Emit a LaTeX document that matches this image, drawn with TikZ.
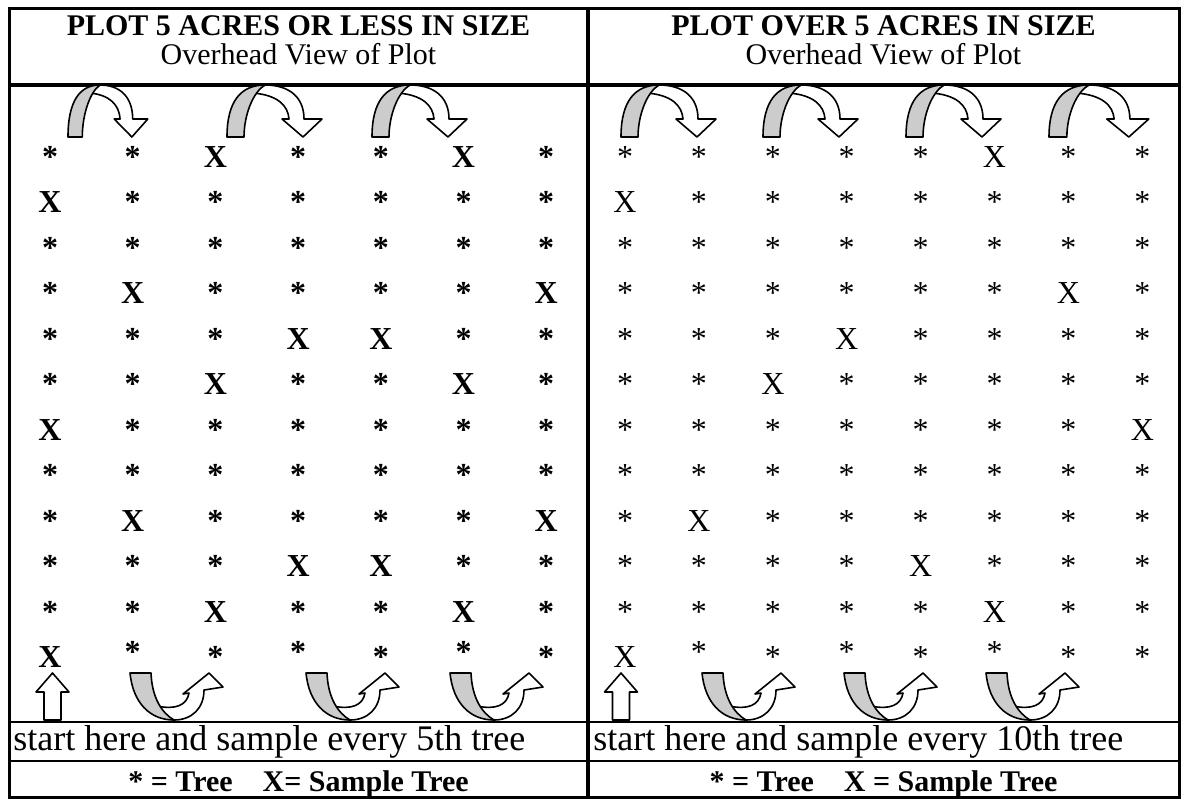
\documentclass[tikz,border=0pt]{standalone}
\usepackage{fontspec}
\setmainfont{Liberation Serif}
\usepackage{xcolor}
\usepackage{tikz}

\definecolor{ribbon}{HTML}{CCCCCC}

\tikzset{
  arrowline/.style={draw=black, line width=0.8pt, line join=round},
  % U-turn over the top: gray back leg, white front leg with head
  topturn/.pic={
    \draw[arrowline, fill=white] (38,-52) .. controls (62,-52) and (77,-40) .. (77,-18)
      -- (95,-18) -- (76,0) -- (55,-18) -- (62,-18)
      .. controls (61,-32) and (50,-42) .. (26,-44) -- cycle;
    \draw[arrowline, fill=ribbon] (0,0) .. controls (0,-36) and (14,-52) .. (38,-52)
      .. controls (26,-45) and (17,-22) .. (17,0) -- cycle;
  },
  % U-turn under the bottom
  botturn/.pic={
    \draw[arrowline, fill=white] (44,47) .. controls (62,47) and (74,35) .. (74,17)
      -- (93,14) -- (79,0) -- (53,21) -- (59,20)
      .. controls (57,32) and (46,37) .. (27,33) -- (30,44) -- cycle;
    \draw[arrowline, fill=ribbon] (0,0) .. controls (3,30) and (20,47) .. (44,47)
      .. controls (32,40) and (22,25) .. (21,0) -- cycle;
  },
  startup/.pic={
    \draw[arrowline, fill=white] (-8.5,0) -- (-8.5,-28) -- (-16.5,-28) -- (0,-47)
      -- (16.5,-28) -- (8.5,-28) -- (8.5,0) -- cycle;
  }
}

\begin{document}
\begin{tikzpicture}[x=0.5pt, y=-0.5pt,
    headtext/.style={inner sep=0, anchor=base, font=\bfseries\fontsize{15}{18}\selectfont},
    subtext/.style={inner sep=0, anchor=base, font=\fontsize{15}{18}\selectfont},
    starttext/.style={inner sep=0, anchor=base west, font=\fontsize{18}{20}\selectfont},
    keytext/.style={inner sep=0, anchor=base, font=\bfseries\fontsize{15}{18}\selectfont},
    leftmark/.style={inner sep=0, anchor=base, font=\bfseries\fontsize{16}{16}\selectfont},
    rightmark/.style={inner sep=0, anchor=base, font=\fontsize{16}{16}\selectfont}]

    \useasboundingbox (0,0) rectangle (1181,800);

    % table frame
    \draw[line width=1.5pt] (9,8) rectangle (1179,797);
    \draw[line width=2pt] (588,8) -- (588,797);
    \draw[line width=1.7pt] (9,85) -- (1179,85);
    \draw[line width=1pt] (9,722) -- (1179,722);
    \draw[line width=1pt] (9,761) -- (1179,761);

    % headings
    \node[headtext] (lefthead) at (298.5,35) {PLOT 5 ACRES OR LESS IN SIZE};
    \node[subtext] (leftsub) at (298.5,64) {Overhead View of Plot};
    \node[headtext] (righthead) at (883.5,35) {PLOT OVER 5 ACRES IN SIZE};
    \node[subtext] (rightsub) at (883.5,64) {Overhead View of Plot};

    % left plot: 0 = tree, 1 = sample tree
    \foreach \r/\pat in {1/{0,0,1,0,0,1,0}, 2/{1,0,0,0,0,0,0}, 3/{0,0,0,0,0,0,0},
        4/{0,1,0,0,0,0,1}, 5/{0,0,0,1,1,0,0}, 6/{0,0,1,0,0,1,0},
        7/{1,0,0,0,0,0,0}, 8/{0,0,0,0,0,0,0}, 9/{0,1,0,0,0,0,1},
        10/{0,0,0,1,1,0,0}, 11/{0,0,1,0,0,1,0}, 12/{1,2,0,2,0,2,0}}
      \foreach \v [count=\c] in \pat
        \node[leftmark] (l-\r-\c) at ({50+82.7*(\c-1)}, {167+45.5*(\r-1)})
          {\ifcase\v *\or X\or \raisebox{2.5pt}{*}\fi};

    % right plot
    \foreach \r/\pat in {1/{0,0,0,0,0,1,0,0}, 2/{1,0,0,0,0,0,0,0}, 3/{0,0,0,0,0,0,0,0},
        4/{0,0,0,0,0,0,1,0}, 5/{0,0,0,1,0,0,0,0}, 6/{0,0,1,0,0,0,0,0},
        7/{0,0,0,0,0,0,0,1}, 8/{0,0,0,0,0,0,0,0}, 9/{0,1,0,0,0,0,0,0},
        10/{0,0,0,0,1,0,0,0}, 11/{0,0,0,0,0,1,0,0}, 12/{1,2,0,2,0,2,0,0}}
      \foreach \v [count=\c] in \pat
        \node[rightmark] (r-\r-\c) at ({625+73.9*(\c-1)}, {167+45.5*(\r-1)})
          {\ifcase\v *\or X\or \raisebox{2.5pt}{*}\fi};

    % walking arrows
    \foreach \ax/\sx in {68/0.84, 227/1, 372/1, 621/1, 763/1, 906/1, 1049/1.05}
      \pic[xscale=\sx] at (\ax,137) {topturn};
    \foreach \ax in {130, 306, 450, 702, 844, 986}
      \pic at (\ax,673) {botturn};
    \pic at (52.5,720) {startup};
    \pic at (621,720) {startup};

    % footer
    \node[starttext] (leftstart) at (13,750) {start here and sample every 5th tree};
    \node[starttext] (rightstart) at (593,750) {start here and sample every 10th tree};
    \node[keytext] (leftkey) at (298.5,791) {* = Tree\quad X= Sample Tree};
    \node[keytext] (rightkey) at (883.5,791) {* = Tree\quad X = Sample Tree};

\end{tikzpicture}
\end{document}
